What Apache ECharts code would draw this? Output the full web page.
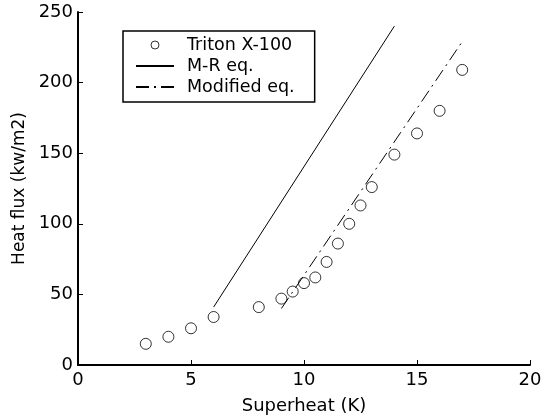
<!DOCTYPE html>
<html>
<head>
<meta charset="utf-8">
<script src="https://cdn.jsdelivr.net/npm/echarts@6/dist/echarts.min.js"></script>
<style>
html,body{margin:0;padding:0;background:#fff;}
#main{width:552px;height:420px;}
</style>
</head>
<body>
<div id="main"></div>
<script>
// measured points (Triton X-100)
var tritonX = [3, 4, 5, 6, 8, 9, 9.5, 10, 10.5, 11, 11.5, 12, 12.5, 13, 14, 15, 16, 17];
var tritonY = [15, 20, 26, 34, 41, 47, 52, 58, 62, 73, 86, 100, 113, 126, 149, 164, 180, 209];
// M-R eq.
var mrX = [6, 14];
var mrY = [41, 240];
// Modified eq.
var modX = [9, 17];
var modY = [40, 229];

function pairs(xs, ys){
	var out = [];
	for(var i=0;i<xs.length;i++){
		out.push([xs[i], ys[i]]);
	}
	return out;
}

var font = 'DejaVu Sans, Verdana, sans-serif';
var hidden = {color: 'rgba(0,0,0,0)', borderColor: 'rgba(0,0,0,0)', borderWidth: 0};
var myChart = echarts.init(document.getElementById('main'));
var option = {
	backgroundColor: '#fff',
	animation: false,
	grid: {
		left: 78,
		right: 22,
		top: 12,
		bottom: 54
	},
	legend: {
		orient: 'vertical',
		left: 123,
		top: 31,
		padding: [5, 20, 6, 12],
		borderColor: '#000',
		borderWidth: 1.5,
		borderRadius: 0,
		itemWidth: 38,
		itemHeight: 8,
		itemGap: 3,
		textStyle: {
			fontFamily: font,
			fontSize: 17.5,
			color: '#000',
			padding: [0, 0, 0, 8]
		},
		data: [
			{name: 'Triton X-100', itemStyle: {color: 'rgba(255,255,255,0)', borderColor: '#000', borderWidth: 1}},
			{name: 'M-R eq.', itemStyle: hidden},
			{name: 'Modified eq.', itemStyle: hidden}
		]
	},
	xAxis: {
		type: 'value',
		min: 0,
		max: 20,
		interval: 5,
		name: 'Superheat (K)',
		nameLocation: 'middle',
		nameGap: 32,
		nameTextStyle: {fontFamily: font, fontSize: 18, color: '#000'},
		axisLine: {lineStyle: {color: '#000', width: 2}},
		axisTick: {inside: true, length: 5, lineStyle: {color: '#000'}},
		axisLabel: {fontFamily: font, fontSize: 18, color: '#000', margin: 6},
		splitLine: {show: false}
	},
	yAxis: {
		type: 'value',
		min: 0,
		max: 250,
		interval: 50,
		name: 'Heat flux (kw/m2)',
		nameLocation: 'middle',
		nameGap: 44,
		nameTextStyle: {fontFamily: font, fontSize: 17, color: '#000'},
		axisLine: {show: true, lineStyle: {color: '#000', width: 2}},
		axisTick: {show: true, inside: true, length: 5, lineStyle: {color: '#000'}},
		axisLabel: {fontFamily: font, fontSize: 18, color: '#000', margin: 5},
		splitLine: {show: false}
	},
	series: [
		{
			name: 'Triton X-100',
			type: 'scatter',
			symbol: 'circle',
			symbolSize: 11,
			itemStyle: {color: 'rgba(255,255,255,0)', borderColor: '#000', borderWidth: 1},
			data: pairs(tritonX, tritonY)
		},
		{
			name: 'M-R eq.',
			type: 'line',
			symbol: 'none',
			lineStyle: {color: '#000', width: 1},
			itemStyle: {color: '#000'},
			data: pairs(mrX, mrY)
		},
		{
			name: 'Modified eq.',
			type: 'line',
			symbol: 'none',
			lineStyle: {color: '#000', width: 1, type: [13, 5, 2, 5]},
			itemStyle: {color: '#000'},
			data: pairs(modX, modY)
		}
	]
};
myChart.setOption(option);
</script>
</body>
</html>
